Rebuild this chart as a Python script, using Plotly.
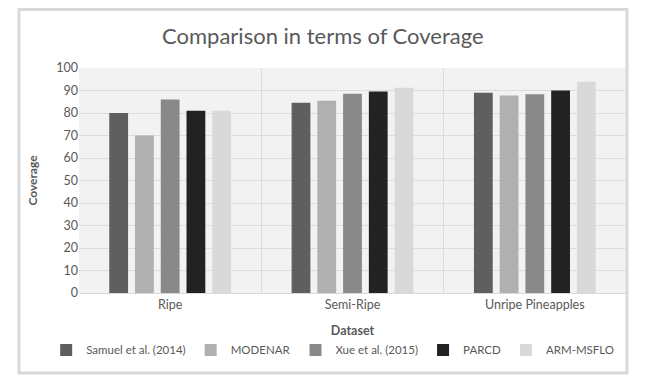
import plotly.graph_objects as go

# datasets and coverage per method
datasets = ["Ripe", "Semi-Ripe", "Unripe Pineapples"]
samuel = [80, 84.6, 89]
modenar = [70, 85.5, 87.8]
xue = [86, 88.6, 88.3]
parcd = [81, 89.6, 90]
arm_msflo = [81, 91.2, 93.9]

series = [
    ("Samuel et al. (2014)", samuel, "#5f5f5f"),
    ("MODENAR", modenar, "#b0b0b0"),
    ("Xue et al. (2015)", xue, "#898989"),
    ("PARCD", parcd, "#222222"),
    ("ARM-MSFLO", arm_msflo, "#d9d9d9"),
]

fig = go.Figure()
for name, vals, col in series:
    fig.add_trace(go.Bar(x=datasets, y=vals, name=name, marker_color=col,
                         marker_line_width=0))

# the page body adds an 8px offset, so the figure is 8px smaller than the window
font = "Lato, Open Sans, sans-serif"
grey = "#595959"
fig.update_layout(
    width=660, height=374,
    margin=dict(l=71, r=42, t=60, b=89, autoexpand=False),
    paper_bgcolor="white",
    plot_bgcolor="#f2f2f2",
    barmode="group",
    bargap=0.294,
    bargroupgap=0.27,
    font=dict(family=font, size=12.5, color=grey),
    title=dict(text="Comparison in terms of Coverage", x=0.477, xref="container",
               y=0.925, yref="container", yanchor="middle", xanchor="center",
               font=dict(size=22, color=grey, family=font)),
    legend=dict(orientation="h", xref="paper", x=-0.06, xanchor="left",
                yref="paper", y=-0.253, yanchor="middle",
                font=dict(size=11.5, color=grey), itemwidth=30,
                traceorder="normal", tracegroupgap=0),
    xaxis=dict(title=dict(text="<b>Dataset</b>", standoff=15,
                          font=dict(size=12.5, color=grey)),
               tickson="boundaries", ticklen=0, showgrid=True,
               gridcolor="#dcdcdc", gridwidth=1, showline=True,
               linecolor="#d9d9d9", mirror=False),
    yaxis=dict(title=dict(text="<b>Coverage</b>", standoff=16,
                          font=dict(size=12, color=grey)),
               range=[0, 100], dtick=10, gridcolor="#dcdcdc", gridwidth=1,
               zeroline=False, showline=False, ticks=""),
    shapes=[dict(type="rect", xref="paper", yref="paper",
                 x0=-0.1097, x1=1.0018, y0=-0.356, y1=1.26,
                 line=dict(color="#d9d9d9", width=3), layer="below")],
)

fig.write_html("out.html")
